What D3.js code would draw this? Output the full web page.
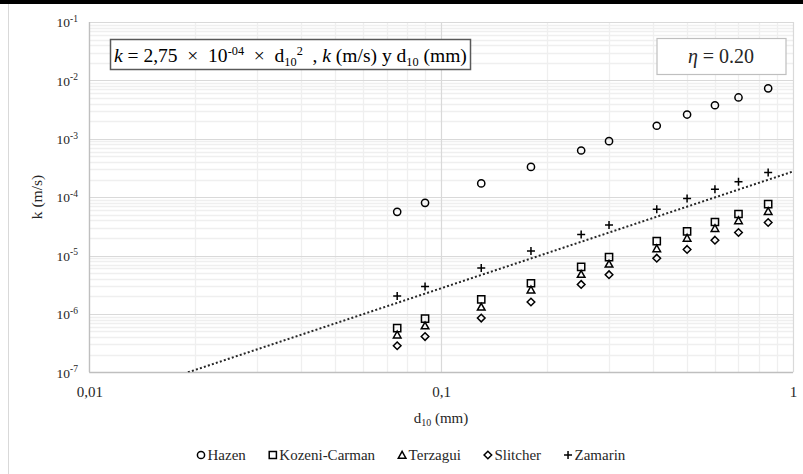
<!DOCTYPE html>
<html><head><meta charset="utf-8">
<script src="https://cdn.jsdelivr.net/npm/d3@7"></script>
<style>
html,body{margin:0;padding:0;background:#fff;}
svg{display:block;}
svg text{font-family:"Liberation Serif","Times New Roman",Times,serif;}
</style></head>
<body>
<svg id="chart" width="803" height="474"></svg>
<script>
// ---- data ----
const d10 = [0.075, 0.09, 0.13, 0.18, 0.25, 0.30, 0.41, 0.50, 0.60, 0.70, 0.85];
const hazen = [5.6e-5, 8.0e-5, 1.72e-4, 3.3e-4, 6.3e-4, 9.1e-4, 1.67e-3, 2.6e-3, 3.75e-3, 5.1e-3, 7.3e-3];
const kozeniCarman = [5.7e-7, 8.3e-7, 1.78e-6, 3.35e-6, 6.4e-6, 9.4e-6, 1.76e-5, 2.6e-5, 3.75e-5, 5.15e-5, 7.6e-5];
const terzagui = [4.4e-7, 6.3e-7, 1.32e-6, 2.6e-6, 4.8e-6, 7.2e-6, 1.32e-5, 2.0e-5, 2.93e-5, 3.98e-5, 5.75e-5];
const slitcher = [2.85e-7, 4.1e-7, 8.5e-7, 1.6e-6, 3.2e-6, 4.7e-6, 9.0e-6, 1.27e-5, 1.83e-5, 2.48e-5, 3.68e-5];
const zamarin = [2.03e-6, 2.94e-6, 6.1e-6, 1.19e-5, 2.3e-5, 3.35e-5, 6.2e-5, 9.5e-5, 1.37e-4, 1.83e-4, 2.65e-4];
const trendD = [0.01907, 1];
const trendK = [1e-7, 2.75e-4];
const seriesNames = ["Hazen", "Kozeni-Carman", "Terzagui", "Slitcher", "Zamarin"];
const seriesShapes = ["circle", "square", "triangle", "diamond", "plus"];
const xTickValues = [0.01, 0.1, 1];
const xTickLabels = ["0,01", "0,1", "1"];
const yTickValues = [1e-1, 1e-2, 1e-3, 1e-4, 1e-5, 1e-6, 1e-7];
const yTickExponents = ["-1", "-2", "-3", "-4", "-5", "-6", "-7"];

const seriesValues = [hazen, kozeniCarman, terzagui, slitcher, zamarin];
const FONT = "Liberation Serif";

const svg = d3.select("#chart");

// frame
svg.append("rect").attr("x", 0).attr("y", 0).attr("width", 803).attr("height", 4).attr("fill", "#000");
svg.append("line").attr("x1", 8.5).attr("x2", 8.5).attr("y1", 4).attr("y2", 474).attr("stroke", "#d9d9d9");

const x = d3.scaleLog().domain([0.01, 1]).range([89.3, 793]);
const y = d3.scaleLog().domain([1e-7, 1e-1]).range([372.3, 22]);

const grid = svg.append("g");
const xMinor = x.ticks().filter(v => !xTickValues.some(t => Math.abs(t - v) / t < 1e-9));
const yMinor = y.ticks().filter(v => !yTickValues.some(t => Math.abs(t - v) / t < 1e-9));
grid.selectAll(".xm").data(xMinor).join("line")
  .attr("x1", d => Math.round(x(d)) + 0.5).attr("x2", d => Math.round(x(d)) + 0.5)
  .attr("y1", y.range()[1]).attr("y2", y.range()[0])
  .attr("stroke", "#efefef").attr("stroke-width", 1.3);
grid.selectAll(".ym").data(yMinor).join("line")
  .attr("y1", d => Math.round(y(d)) + 0.5).attr("y2", d => Math.round(y(d)) + 0.5)
  .attr("x1", x.range()[0]).attr("x2", x.range()[1])
  .attr("stroke", "#efefef").attr("stroke-width", 1.3);
grid.selectAll(".xM").data(xTickValues).join("line")
  .attr("x1", d => Math.round(x(d)) + 0.5).attr("x2", d => Math.round(x(d)) + 0.5)
  .attr("y1", y.range()[1]).attr("y2", y.range()[0])
  .attr("stroke", "#d9d9d9").attr("stroke-width", 1.2);
grid.selectAll(".yM").data(yTickValues).join("line")
  .attr("y1", d => Math.round(y(d)) + 0.5).attr("y2", d => Math.round(y(d)) + 0.5)
  .attr("x1", x.range()[0]).attr("x2", x.range()[1])
  .attr("stroke", "#d9d9d9").attr("stroke-width", 1.2);
svg.append("line").attr("x1", x.range()[0]).attr("x2", x.range()[1])
  .attr("y1", Math.round(y.range()[0]) + 0.5).attr("y2", Math.round(y.range()[0]) + 0.5)
  .attr("stroke", "#bfbfbf").attr("stroke-width", 1.3);
svg.append("line").attr("x1", Math.round(x.range()[0]) + 0.5).attr("x2", Math.round(x.range()[0]) + 0.5)
  .attr("y1", y.range()[1]).attr("y2", y.range()[0])
  .attr("stroke", "#bfbfbf").attr("stroke-width", 1.3);

// x axis labels
const xAxis = d3.axisBottom(x).tickValues(xTickValues)
  .tickFormat((d, i) => xTickLabels[i]).tickSize(0).tickPadding(0);
const gx = svg.append("g").attr("transform", `translate(0,${y.range()[0]})`).call(xAxis)
  .attr("font-family", FONT);
gx.select(".domain").remove();
gx.selectAll("text").attr("font-family", FONT).attr("font-size", 15)
  .attr("fill", "#262626").attr("dy", null).attr("y", 24.5);

// y axis labels
const yAxis = d3.axisLeft(y).tickValues(yTickValues).tickFormat(() => "").tickSize(0).tickPadding(0);
const gy = svg.append("g").attr("transform", `translate(78,0)`).call(yAxis).attr("font-family", FONT);
gy.select(".domain").remove();
gy.selectAll("text").each(function (d, i) {
  const t = d3.select(this).attr("x", 0).attr("dy", null).attr("y", 4.8)
    .attr("font-family", FONT).attr("font-size", 13.5).attr("fill", "#262626")
    .attr("text-anchor", "end");
  t.text(null);
  t.append("tspan").text("10");
  t.append("tspan").attr("font-size", 9.5).attr("dy", -5.5).text(yTickExponents[i]);
});

// axis titles
svg.append("text").attr("transform", "translate(42,197) rotate(-90)").attr("font-family", FONT)
  .attr("text-anchor", "middle").attr("font-size", 15.5).attr("fill", "#262626").text("k (m/s)");
const xt = svg.append("text").attr("x", 441).attr("y", 423).attr("text-anchor", "middle")
  .attr("font-family", FONT).attr("font-size", 15).attr("fill", "#262626");
xt.append("tspan").text("d");
xt.append("tspan").attr("font-size", 10).attr("dy", 3).text("10");
xt.append("tspan").attr("dy", -3).text(" (mm)");

// trend line
svg.append("clipPath").attr("id", "pc").append("rect")
  .attr("x", x.range()[0]).attr("y", y.range()[1]).attr("width", x.range()[1] - x.range()[0]).attr("height", y.range()[0] - y.range()[1]);
svg.append("path").attr("clip-path", "url(#pc)")
  .datum(trendD.map((d, i) => [d, trendK[i]]))
  .attr("d", d3.line().x(p => x(p[0])).y(p => y(p[1])))
  .attr("fill", "none").attr("stroke", "#262626").attr("stroke-width", 2).attr("stroke-dasharray", "2,2.2");

// markers
function shapePath(shape) {
  switch (shape) {
    case "circle": return "M-3.6,0a3.6,3.6 0 1,0 7.2,0a3.6,3.6 0 1,0 -7.2,0Z";
    case "square": return "M-3.6,-3.6H3.6V3.6H-3.6Z";
    case "triangle": return "M0,-3.6L3.8,3.2H-3.8Z";
    case "diamond": return "M0,-3.8L3.8,0L0,3.8L-3.8,0Z";
    case "plus": return "M-4,0H4M0,-4V4";
  }
}
seriesValues.forEach((vals, si) => {
  svg.append("g").selectAll("path").data(vals).join("path")
    .attr("transform", (v, i) => `translate(${x(d10[i])},${y(v)})`)
    .attr("d", shapePath(seriesShapes[si]))
    .attr("fill", "none").attr("stroke", "#000").attr("stroke-width", 1.5);
});

// legend
const leg = svg.append("g");
let lx = 201;
seriesNames.forEach((name, i) => {
  leg.append("path").attr("transform", `translate(${lx},455)`).attr("d", shapePath(seriesShapes[i]))
    .attr("fill", "none").attr("stroke", "#000").attr("stroke-width", 1.5);
  const t = leg.append("text").attr("x", lx + 6.5).attr("y", 460).attr("font-size", 15)
    .attr("font-family", FONT).attr("fill", "#262626").text(name);
  lx += 6.5 + t.node().getComputedTextLength() + 27;
});

// equation box
svg.append("rect").attr("x", 110.5).attr("y", 39.5).attr("width", 360).attr("height", 30)
  .attr("fill", "#fff").attr("stroke", "#595959").attr("stroke-width", 1.5);
const eq = svg.append("text").attr("x", 114).attr("y", 62).attr("fill", "#000")
  .attr("font-family", FONT).attr("xml:space", "preserve");
function buildEq(fs) {
  eq.selectAll("*").remove();
  const sm = fs * 0.63;
  eq.attr("font-size", fs);
  eq.append("tspan").attr("font-style", "italic").text("k");
  eq.append("tspan").text(" = 2,75  ×  10");
  eq.append("tspan").attr("font-size", sm).attr("dy", -fs * 0.37).text("-04");
  eq.append("tspan").attr("dy", fs * 0.37).text("  ×  d");
  eq.append("tspan").attr("font-size", sm).attr("dy", fs * 0.2).text("10");
  eq.append("tspan").attr("font-size", sm).attr("dy", -fs * 0.57).text("2");
  eq.append("tspan").attr("dy", fs * 0.37).text("  , ");
  eq.append("tspan").attr("font-style", "italic").text("k");
  eq.append("tspan").text(" (m/s) y d");
  eq.append("tspan").attr("font-size", sm).attr("dy", fs * 0.2).text("10");
  eq.append("tspan").attr("dy", -fs * 0.2).text(" (mm)");
}
buildEq(19);
const w0 = eq.node().getBBox().width;
buildEq(19 * 353 / w0);

// eta box
svg.append("rect").attr("x", 657).attr("y", 38.5).attr("width", 129).attr("height", 36)
  .attr("fill", "#fff").attr("stroke", "#bfbfbf").attr("stroke-width", 1.2);
const et = svg.append("text").attr("x", 721).attr("y", 63).attr("text-anchor", "middle")
  .attr("font-family", FONT).attr("font-size", 20).attr("fill", "#262626").attr("xml:space", "preserve");
et.append("tspan").attr("font-style", "italic").text("η");
et.append("tspan").text(" = 0.20");
</script>
</body></html>
